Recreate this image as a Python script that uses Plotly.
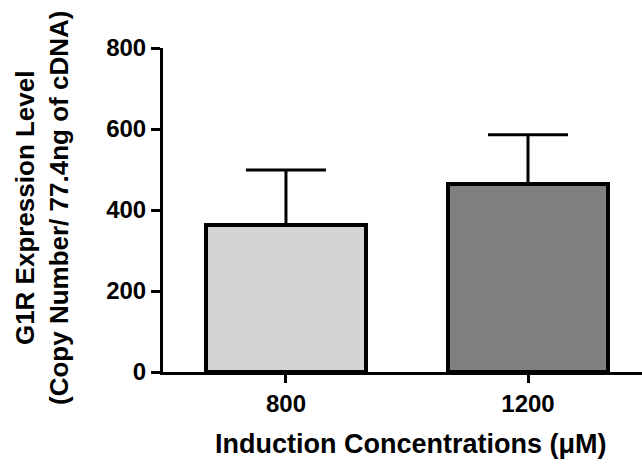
import plotly.graph_objects as go

# Data
concentrations = ["800", "1200"]
expression_mean = [364, 465]
expression_sd = [135, 121]
bar_colors = ["#d3d3d3", "#808080"]
y_ticks = [0, 200, 400, 600, 800]

FONT = "Arial, Liberation Sans, sans-serif"

fig = go.Figure()
fig.add_trace(go.Bar(
    x=[0, 1],
    y=expression_mean,
    width=0.66,
    marker=dict(color=bar_colors, line=dict(color="black", width=4)),
    error_y=dict(type="data", symmetric=False, array=expression_sd,
                 arrayminus=[0, 0], color="black", thickness=3, width=40),
    showlegend=False,
))

fig.update_layout(
    width=642, height=465,
    margin=dict(l=163, r=0, t=48, b=93, pad=0),
    plot_bgcolor="white", paper_bgcolor="white",
    font=dict(family=FONT, color="black", weight="bold"),
    bargap=0,
)

fig.update_xaxes(
    range=[-0.508, 1.471],
    tickmode="array", tickvals=[0, 1], ticktext=concentrations,
    showline=True, linecolor="black", linewidth=3,
    ticks="outside", ticklen=8, tickwidth=3, tickcolor="black",
    tickfont=dict(size=24, family=FONT, weight="bold"),
    showgrid=False, zeroline=False,
)
fig.update_yaxes(
    range=[0, 800],
    tickmode="array", tickvals=y_ticks,
    showline=True, linecolor="black", linewidth=3,
    ticks="outside", ticklen=9, tickwidth=3, tickcolor="black",
    tickfont=dict(size=24, family=FONT, weight="bold"),
    showgrid=False, zeroline=False,
)

fig.add_annotation(
    text="Induction Concentrations (μM)",
    xref="paper", yref="paper", x=(411 - 163) / 479, y=(372 - 444) / 324,
    xanchor="center", yanchor="middle", showarrow=False,
    font=dict(size=27, family=FONT, weight="bold", color="black"),
)
fig.add_annotation(
    text="G1R Expression Level<br>(Copy Number/ 77.4ng of cDNA)",
    xref="paper", yref="paper", x=(42 - 163) / 479, y=(372 - 208) / 324,
    xanchor="center", yanchor="middle", textangle=-90, showarrow=False,
    font=dict(size=26, family=FONT, weight="bold", color="black"),
)

fig.write_html("out.html")
